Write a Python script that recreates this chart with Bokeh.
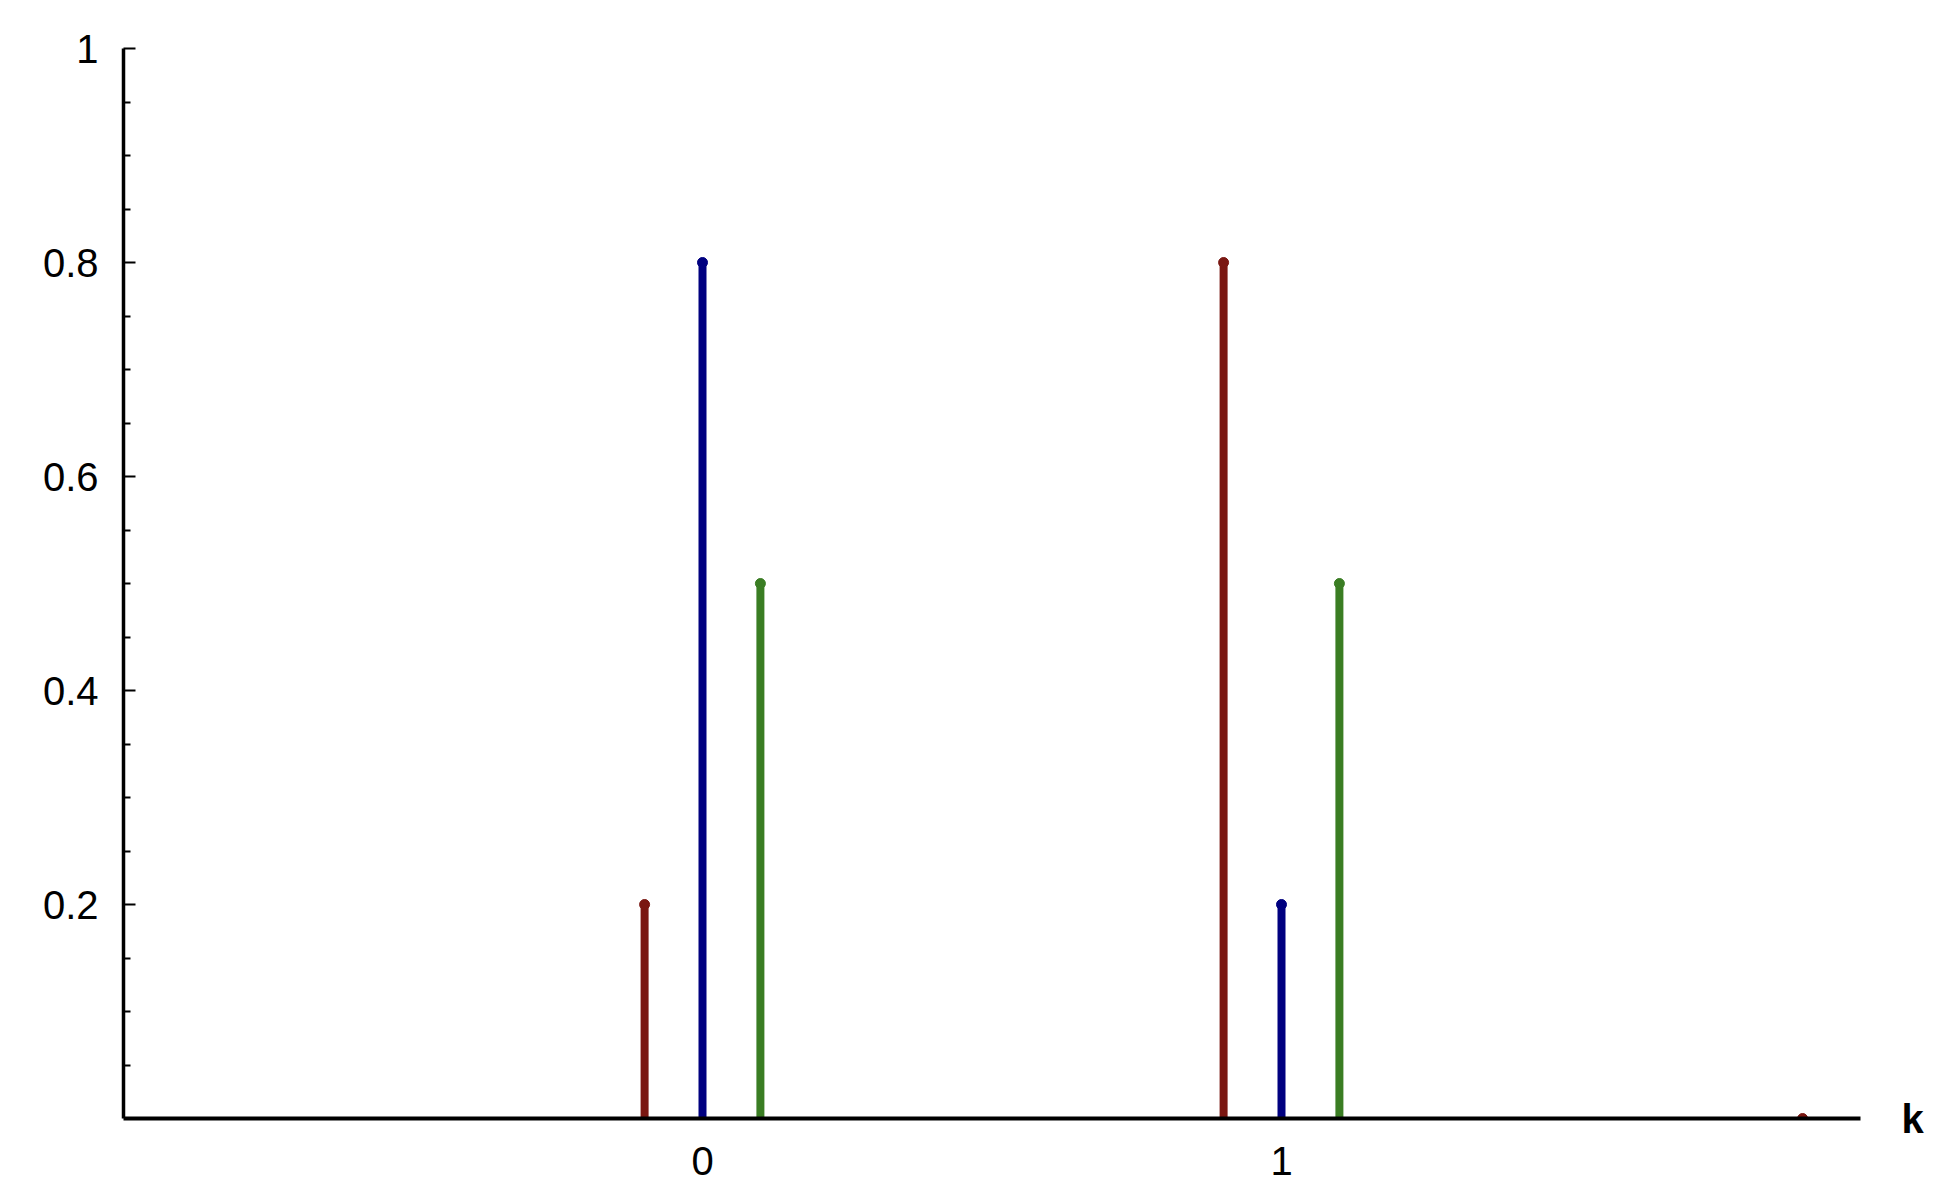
from bokeh.plotting import figure
from bokeh.models import FixedTicker, LinearAxis
from bokeh.embed import file_html
from bokeh.resources import INLINE

# data
k = [0, 1, 2]
red_vals = [0.2, 0.8, 0.0]
blue_vals = [0.8, 0.2]
green_vals = [0.5, 0.5]
y_ticks = [0.2, 0.4, 0.6, 0.8, 1.0]
y_tick_labels = ["0.2", "0.4", "0.6", "0.8", "1"]
y_minor = [0.05, 0.1, 0.15, 0.25, 0.3, 0.35, 0.45, 0.5, 0.55, 0.65, 0.7, 0.75, 0.85, 0.9, 0.95]
x_ticks = [0, 1]
x_tick_labels = ["0", "1"]
x_title = "k"

RED = "#7a1712"
BLUE = "#000080"
GREEN = "#3a7d23"
FONT = "Liberation Sans"

p = figure(width=1936, height=1186, x_range=(-1, 2), y_range=(0, 1),
           output_backend="svg", toolbar_location=None,
           min_border_left=123, min_border_right=76, min_border_top=48, min_border_bottom=68)
p.outline_line_color = None
p.grid.visible = False
p.background_fill_color = "white"

def stems(xs, ys, color):
    p.segment(x0=xs, y0=[0] * len(xs), x1=xs, y1=ys, line_width=8, line_color=color, line_cap="butt")
    p.scatter(x=xs, y=ys, size=10, fill_color=color, line_color=color)

stems([v - 0.1 for v in k[:len(red_vals)]], red_vals, RED)
stems([v for v in k[:len(blue_vals)]], blue_vals, BLUE)
stems([v + 0.1 for v in k[:len(green_vals)]], green_vals, GREEN)

# x axis (leading blank line with tight line height pushes the label a little lower)
xa = p.xaxis[0]
xa.ticker = FixedTicker(ticks=x_ticks)
xa.major_label_overrides = {t: "\n" + l for t, l in zip(x_ticks, x_tick_labels)}
xa.axis_line_width = 4
xa.axis_line_color = "black"
xa.major_tick_in = 0
xa.major_tick_out = 0
xa.minor_tick_in = 0
xa.minor_tick_out = 0
xa.major_label_standoff = 9
xa.major_label_text_line_height = 0.26
xa.major_label_text_font = FONT
xa.major_label_text_font_size = "40px"
xa.major_label_text_color = "black"

# y axis
ya = p.yaxis[0]
ya.ticker = FixedTicker(ticks=y_ticks, minor_ticks=y_minor)
ya.major_label_overrides = {t: l for t, l in zip(y_ticks, y_tick_labels)}
ya.axis_line_width = 3.5
ya.axis_line_color = "black"
ya.major_tick_in = 12
ya.major_tick_out = 0
ya.major_tick_line_width = 2
ya.minor_tick_in = 7
ya.minor_tick_out = 0
ya.minor_tick_line_width = 2
ya.major_label_standoff = 25
ya.major_label_text_font = FONT
ya.major_label_text_font_size = "40px"
ya.major_label_text_color = "black"

# "k" at the right end of the x axis, via an invisible right axis with one tick at y=0
ka = LinearAxis(ticker=FixedTicker(ticks=[0]), major_label_overrides={0: x_title})
ka.axis_line_color = None
ka.major_tick_line_color = None
ka.minor_tick_line_color = None
ka.major_tick_in = 0
ka.major_tick_out = 0
ka.minor_tick_in = 0
ka.minor_tick_out = 0
ka.major_label_standoff = 41
ka.major_label_text_font = FONT
ka.major_label_text_font_size = "40px"
ka.major_label_text_font_style = "bold"
ka.major_label_text_color = "black"
p.add_layout(ka, "right")

open("out.html", "w").write(file_html(p, INLINE))
